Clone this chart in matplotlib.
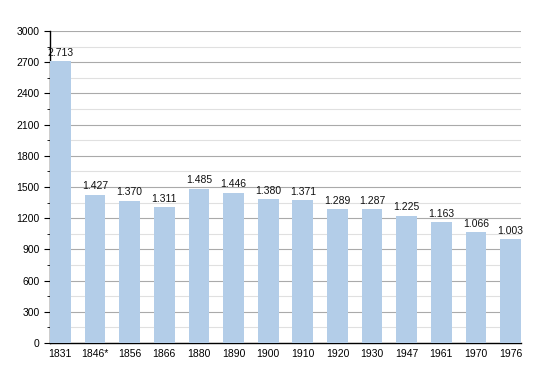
import matplotlib
matplotlib.use("Agg")
import matplotlib.pyplot as plt
from matplotlib.ticker import MultipleLocator

years = ["1831", "1846*", "1856", "1866", "1880", "1890", "1900", "1910", "1920", "1930", "1947", "1961", "1970", "1976"]
population = [2713, 1427, 1370, 1311, 1485, 1446, 1380, 1371, 1289, 1287, 1225, 1163, 1066, 1003]

plt.rcParams['font.family'] = ['Liberation Sans', 'DejaVu Sans']
fig = plt.figure(figsize=(5.5, 3.73), dpi=100)
ax = fig.add_axes([50/550, 1-343/373, 471/550, 312/373])

x = list(range(len(years)))
bars = ax.bar(x, population, width=0.6, color="#b3cde8", zorder=3)
for xi, v in zip(x, population):
    s = f"{v:,}".replace(",", ".")
    ax.text(xi, v + 30, s, ha="center", va="bottom", fontsize=7.5, color="#111111", zorder=4)

ax.set_xlim(-0.3, len(years) - 0.7)
ax.set_ylim(0, 3000)
ax.yaxis.set_major_locator(MultipleLocator(300))
ax.yaxis.set_minor_locator(MultipleLocator(150))
ax.grid(axis="y", which="major", color="#aaaaaa", linewidth=0.8, zorder=0)
ax.grid(axis="y", which="minor", color="#e0e0e0", linewidth=0.8, zorder=0)
ax.set_xticks(x)
ax.set_xticklabels(years)
ax.tick_params(axis="x", length=0, labelsize=7.5, pad=4)
ax.tick_params(axis="y", which="major", length=4, labelsize=7.5, direction="out")
ax.tick_params(axis="y", which="minor", length=2, direction="out")
for s in ["top", "right"]:
    ax.spines[s].set_visible(False)
ax.spines["left"].set_linewidth(1)
ax.spines["bottom"].set_linewidth(1)

fig.savefig("out.png", dpi=100)
